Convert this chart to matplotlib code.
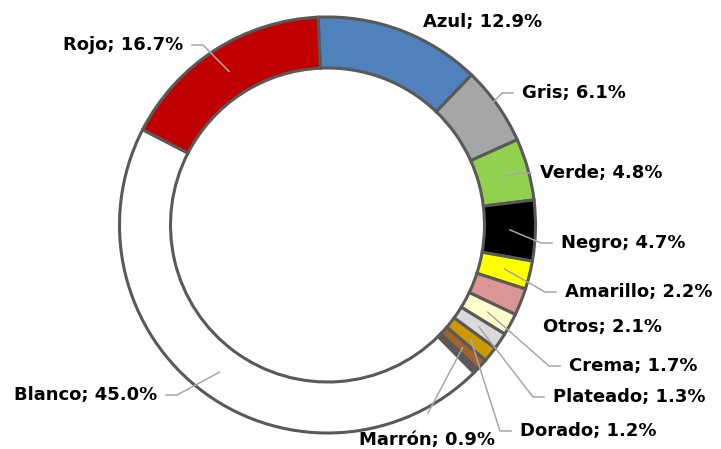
import matplotlib.pyplot as plt
import numpy as np

# colour names and shares (%), clockwise from the top
names = ["Azul", "Gris", "Verde", "Negro", "Amarillo", "Otros", "Crema",
         "Plateado", "Dorado", "Marrón", "", "Blanco", "Rojo"]
shares = [12.9, 6.1, 4.8, 4.7, 2.2, 2.1, 1.7, 1.3, 1.2, 0.9, 0.4, 45.0, 16.7]
fills = ["#4F81BD", "#A6A6A6", "#92D050", "#000000", "#FFFF00", "#D99694",
         "#FFFFCC", "#D9D9D9", "#CC9900", "#A0632B", "#595959", "#FFFFFF",
         "#C00000"]

# label placement in pixels (x of the text edge, y from top), side, leader?
label_layout = {
    "Azul": (423, 22, "left", False),
    "Gris": (522, 93, "left", True),
    "Verde": (540, 173, "left", True),
    "Negro": (561, 243, "left", True),
    "Amarillo": (565, 292, "left", True),
    "Otros": (543, 327, "left", False),
    "Crema": (569, 366, "left", True),
    "Plateado": (553, 397, "left", True),
    "Dorado": (520, 431, "left", True),
    "Marrón": (359, 440, "left", True),
    "Blanco": (157, 395, "right", True),
    "Rojo": (183, 45, "right", True),
}

W, H = 721, 449
cx, cy = 327.5, H - 225
r_out, ring = 208, 51

fig = plt.figure(figsize=(7.21, 4.49), dpi=100)
ax = fig.add_axes([0, 0, 1, 1])

wedges, _ = ax.pie(shares, colors=fills, startangle=92.6, counterclock=False,
                   radius=r_out, center=(cx, cy),
                   wedgeprops=dict(width=ring, edgecolor="#595959",
                                   linewidth=2.2))

r_mid = r_out - ring / 2
for w, name, val in zip(wedges, names, shares):
    if not name:
        continue
    tx, ty, side, leader = label_layout[name]
    ty = H - ty
    ax.text(tx, ty, f"{name}; {val:.1f}%", ha=side, va="center",
            fontsize=13, fontweight="bold", color="black")
    if not leader:
        continue
    ang = np.deg2rad((w.theta1 + w.theta2) / 2)
    ax0, ay0 = cx + r_mid * np.cos(ang), cy + r_mid * np.sin(ang)
    if name == "Marrón":
        xs, ys = [ax0, 428], [ay0, H - 413]
    else:
        sgn = 1 if side == "left" else -1
        end = tx - sgn * 9
        elbow = end - sgn * 11
        xs, ys = [ax0, elbow, end], [ay0, ty, ty]
    ax.plot(xs, ys, color="#A6A6A6", linewidth=1.1, zorder=5)

ax.set_xlim(0, W)
ax.set_ylim(0, H)
ax.set_aspect("equal")
ax.axis("off")

fig.savefig("out.png", dpi=100)
